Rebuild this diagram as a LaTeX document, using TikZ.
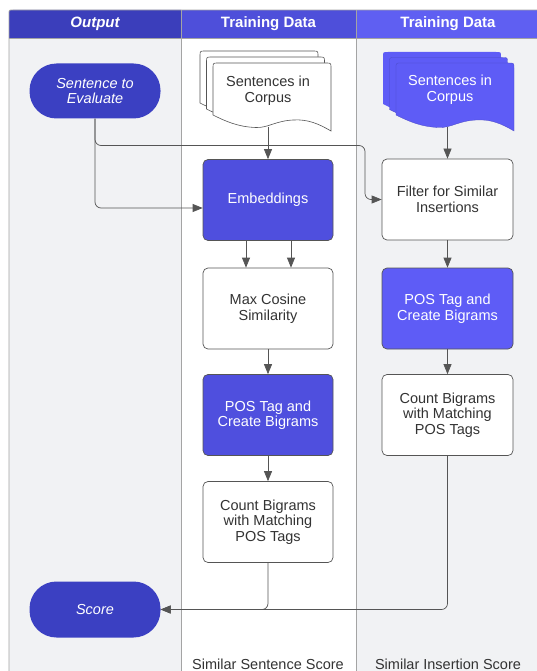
\documentclass[tikz,border=0pt]{standalone}
\usepackage{fontspec}
\setmainfont{Liberation Sans}
\usetikzlibrary{arrows.meta}
\definecolor{hdA}{HTML}{3B3EBB}
\definecolor{hdB}{HTML}{4E4FDA}
\definecolor{hdC}{HTML}{5F5FF2}
\definecolor{laneg}{HTML}{F1F2F4}
\definecolor{lanel}{HTML}{A4A4A4}
\definecolor{darkB}{HTML}{3B40C2}
\definecolor{midB}{HTML}{4F4FDE}
\definecolor{litB}{HTML}{5E5CF6}
\definecolor{txt}{HTML}{333333}
\definecolor{edgec}{HTML}{555555}
\tikzset{
  body/.style={font=\fontsize{14.5}{15.5}\selectfont, align=center},
  proc/.style={body, draw=edgec, line width=0.7pt, rounded corners=5pt, minimum width=130pt, minimum height=81pt, text=txt, fill=white, inner sep=2pt},
  procB/.style={proc, fill=midB, text=white},
  procC/.style={proc, fill=litB, text=white},
  term/.style={body, fill=darkB, draw=none, rounded corners=27pt, minimum width=131pt, minimum height=55pt, text=white, font=\fontsize{14.5}{15.5}\selectfont\itshape},
  hdr/.style={font=\fontsize{15}{16}\selectfont\bfseries, text=white},
  conn/.style={draw=edgec, line width=0.7pt, rounded corners=6pt, -{Triangle[length=10pt,width=8pt]}},
  lane/.style={draw=lanel, line width=0.8pt},
  docw/.style={draw=edgec, line width=0.6pt, fill=white},
  docb/.style={draw=none, fill=litB},
}
\newcommand\docshape[3]{% #1 style, #2 x0, #3 y0 ; width 118
  \path[#1] (#2,#3+52) -- (#2,#3+5) .. controls (#2,#3) .. (#2+5,#3) -- (#2+113,#3)
    .. controls (#2+118,#3) .. (#2+118,#3+5) -- (#2+118,#3+68)
    .. controls (#2+106,#3+61) and (#2+95,#3+56) .. (#2+80,#3+57)
    .. controls (#2+62,#3+58) and (#2+55,#3+65) .. (#2+43,#3+64.5)
    .. controls (#2+25,#3+64) and (#2+12,#3+58) .. (#2,#3+52) -- cycle;}
\begin{document}
\begin{tikzpicture}[x=1pt,y=-1pt]
\useasboundingbox (0,0) rectangle (537,671);
\clip (0,0) rectangle (537,671);
\fill[white] (0,0) rectangle (537,671);
% lanes
\fill[laneg] (9,38) rectangle (181,690);
\fill[white] (181,38) rectangle (356,690);
\fill[laneg] (356,38) rectangle (545,690);
% header
\fill[hdA] (9,38) -- (9,14) .. controls (9,10) .. (13,10) -- (181,10) -- (181,38) -- cycle;
\fill[hdB] (181,10) rectangle (356,38);
\fill[hdC] (356,10) rectangle (545,38);
\draw[lane] (9,690) -- (9,14) .. controls (9,10) .. (13,10) -- (545,10);
\draw[lane] (9,38) -- (545,38);
\draw[lane] (181,10) -- (181,690);
\draw[lane] (356,10) -- (356,690);
\node[hdr, font=\fontsize{15}{16}\selectfont\bfseries\itshape] (h1) at (95,24) {Output};
\node[hdr] (h2) at (268.5,24) {Training Data};
\node[hdr] (h3) at (448,24) {Training Data};
% documents
\docshape{docw}{200}{51}
\docshape{docw}{206.5}{57}
\docshape{docw}{213}{63}
\node[body, text=txt] (corpA) at (268,91) {Sentences in\\Corpus};
\docshape{docb}{383}{52}
\docshape{docb, draw=litB!80!black, line width=0.3pt}{389.5}{57.5}
\docshape{docb, draw=litB!80!black, line width=0.3pt}{396}{63}
\node[body, text=white] (corpB) at (450,90) {Sentences in\\Corpus};
\coordinate (corpAb) at (268,127);
\coordinate (corpBb) at (447.5,127);
% nodes
\node[term] (s2e) at (95,91) {Sentence to\\Evaluate};
\node[term, minimum height=56pt] (score) at (95,609.5) {Score};
\node[procB] (emb) at (268,200) {Embeddings};
\node[proc] (maxcos) at (268,308.5) {Max Cosine\\Similarity};
\node[procB] (posA) at (268,415) {POS Tag and\\Create Bigrams};
\node[proc] (cntA) at (268,522) {Count Bigrams\\with Matching\\POS Tags};
\node[proc, minimum width=131pt] (filter) at (447.5,199.5) {Filter for Similar\\Insertions};
\node[procC, minimum width=131pt] (posB) at (447.5,308.5) {POS Tag and\\Create Bigrams};
\node[proc, minimum width=131pt] (cntB) at (447.5,415) {Count Bigrams\\with Matching\\POS Tags};
% bottom labels
\node[body, text=txt, anchor=base] (labA) at (268,669) {Similar Sentence Score};
\node[body, text=txt, anchor=base] (labB) at (448,669) {Similar Insertion Score};
% connectors
\coordinate (j1) at (365,145.5);
\draw[conn] (s2e.south) |- (j1) |- (filter.west);
\draw[conn] (s2e.south) |- ([yshift=-8pt]emb.west);
\draw[conn] (corpAb) -- (emb.north);
\draw[conn] (corpBb) -- (filter.north);
\draw[conn] ([xshift=-22pt]emb.south) -- ([xshift=-22pt]maxcos.north);
\draw[conn] ([xshift=23pt]emb.south) -- ([xshift=23pt]maxcos.north);
\draw[conn] (maxcos) -- (posA);
\draw[conn] (posA) -- (cntA);
\draw[conn] (filter) -- (posB);
\draw[conn] (posB) -- (cntB);
\draw[conn] (cntB.south) |- (score.east);
\draw[conn] (cntA.south) |- (score.east);
\end{tikzpicture}
\end{document}
